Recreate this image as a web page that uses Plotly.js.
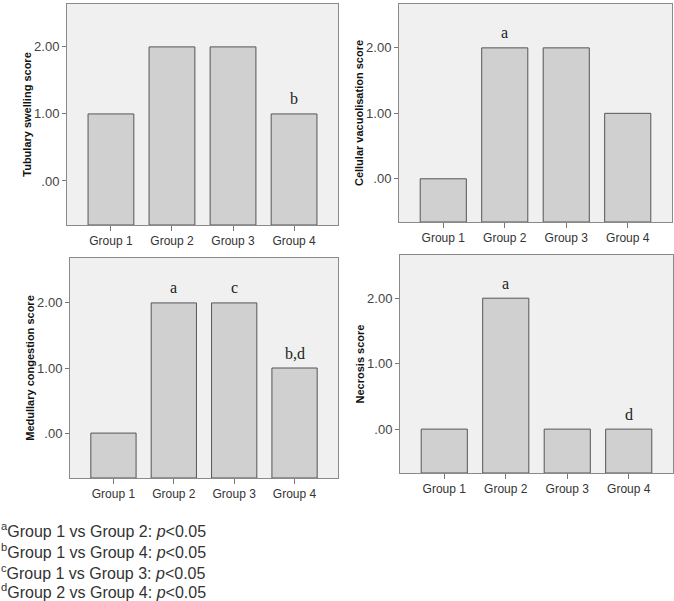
<!DOCTYPE html>
<html>
<head>
<meta charset="utf-8">
<script src="https://cdn.plot.ly/plotly-3.0.1.min.js"></script>
<style>html,body{margin:0;padding:0;background:#fff;}#chart{width:674px;height:601px;}</style>
</head>
<body>
<div id="chart"></div>
<script>
const groups = ["Group 1", "Group 2", "Group 3", "Group 4"];
const tubularScore = [1, 2, 2, 1];
const vacuolScore = [0, 2, 2, 1];
const medullaryScore = [0, 2, 2, 1];
const necrosisScore = [0, 2, 0, 0];
const tubularMarks = ["", "", "", "b"];
const vacuolMarks = ["", "a", "", ""];
const medullaryMarks = ["", "a", "c", "b,d"];
const necrosisMarks = ["", "a", "", "d"];
const yTitles = ["Tubulary swelling score", "Cellular vacuolisation score", "Medullary congestion score", "Necrosis score"];
const yTickVals = [0, 1, 2];
const yTickText = [".00", "1.00", "2.00"];
const footnotes = [
  "<sup>a</sup>Group 1 vs Group 2: <i>p</i>&lt;0.05",
  "<sup>b</sup>Group 1 vs Group 4: <i>p</i>&lt;0.05",
  "<sup>c</sup>Group 1 vs Group 3: <i>p</i>&lt;0.05",
  "<sup>d</sup>Group 2 vs Group 4: <i>p</i>&lt;0.05"
];

const W = 674, H = 601;
const panels = [
  {vals: tubularScore, marks: tubularMarks, px: [67, 338], py: [4, 225], yr: [-0.657, 2.64]},
  {vals: vacuolScore, marks: vacuolMarks, px: [399, 672], py: [4, 222], yr: [-0.66, 2.67]},
  {vals: medullaryScore, marks: medullaryMarks, px: [70, 338], py: [258, 478], yr: [-0.69, 2.69]},
  {vals: necrosisScore, marks: necrosisMarks, px: [400, 673], py: [255, 473], yr: [-0.67, 2.66]}
];

const data = [];
const layout = {
  width: W, height: H,
  margin: {l: 0, r: 0, t: 0, b: 0},
  paper_bgcolor: "#ffffff",
  plot_bgcolor: "#f0f0f0",
  showlegend: false,
  bargap: 0.25,
  font: {family: "Liberation Sans, Arial, sans-serif", color: "#333"},
  annotations: []
};

panels.forEach((p, i) => {
  const n = i === 0 ? "" : String(i + 1);
  const yMin = p.yr[0];
  data.push({
    type: "bar",
    x: groups,
    y: p.vals.map(v => v - yMin),
    base: p.vals.map(() => yMin),
    xaxis: "x" + n, yaxis: "y" + n,
    marker: {color: "#d0d0d0", line: {color: "#555", width: 1}},
    hoverinfo: "skip"
  });
  layout["xaxis" + n] = {
    domain: [p.px[0] / W, p.px[1] / W],
    anchor: "y" + n,
    type: "category",
    range: [-0.72, 3.72],
    showline: true, mirror: true, linecolor: "#8a8a8a", linewidth: 1,
    ticks: "outside", ticklen: 5, tickcolor: "#777",
    tickfont: {size: 12, color: "#333"},
    showgrid: false, zeroline: false, fixedrange: true
  };
  layout["yaxis" + n] = {
    domain: [1 - p.py[1] / H, 1 - p.py[0] / H],
    anchor: "x" + n,
    range: p.yr,
    tickvals: yTickVals, ticktext: yTickText,
    showline: true, mirror: true, linecolor: "#8a8a8a", linewidth: 1,
    ticks: "outside", ticklen: 4, tickcolor: "#777",
    tickfont: {size: 13, color: "#444"},
    showgrid: false, zeroline: false, fixedrange: true,
    title: {text: yTitles[i], font: {size: 11, color: "#111", family: "Liberation Sans, Arial, sans-serif", weight: "bold"}, standoff: 0}
  };
  p.marks.forEach((m, j) => {
    if (!m) return;
    layout.annotations.push({
      xref: "x" + n, yref: "y" + n,
      x: groups[j], y: p.vals[j],
      text: m, showarrow: false,
      yanchor: "middle", yshift: 15,
      font: {family: "Liberation Serif, Times New Roman, serif", size: 16, color: "#222"}
    });
  });
});

const footBottom = [541, 562, 583, 602];
footnotes.forEach((t, k) => {
  layout.annotations.push({
    xref: "paper", yref: "paper",
    x: 0, y: 1 - footBottom[k] / H,
    xanchor: "left", yanchor: "bottom",
    text: t, showarrow: false, borderpad: 0,
    font: {family: "Liberation Sans, Arial, sans-serif", size: 16, color: "#333"}
  });
});

Plotly.newPlot("chart", data, layout, {staticPlot: true});
</script>
</body>
</html>
